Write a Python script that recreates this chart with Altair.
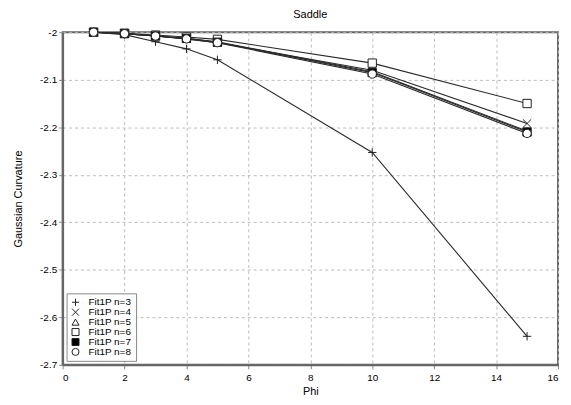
import altair as alt
import pandas as pd

phi = [1, 2, 3, 4, 5, 10, 15]
series_names = ["Fit1P n=3", "Fit1P n=4", "Fit1P n=5", "Fit1P n=6", "Fit1P n=7", "Fit1P n=8"]
n3 = [-2.000, -2.005, -2.020, -2.035, -2.058, -2.253, -2.640]
n4 = [-2.000, -2.003, -2.008, -2.014, -2.022, -2.080, -2.192]
n5 = [-2.000, -2.003, -2.008, -2.013, -2.020, -2.083, -2.208]
n6 = [-2.000, -2.002, -2.006, -2.010, -2.015, -2.065, -2.150]
n7 = [-2.000, -2.003, -2.008, -2.013, -2.021, -2.085, -2.210]
n8 = [-2.000, -2.003, -2.008, -2.014, -2.022, -2.088, -2.213]
x_ticks = [0, 2, 4, 6, 8, 10, 12, 14, 16]
y_ticks = [-2.0, -2.1, -2.2, -2.3, -2.4, -2.5, -2.6, -2.7]

rows = []
for name, vals in zip(series_names, [n3, n4, n5, n6, n7, n8]):
    for p, v in zip(phi, vals):
        rows.append({"series": name, "phi": p, "curv": v})
df = pd.DataFrame(rows)

shapes = [
    "M-1,0L1,0M0,-1L0,1",
    "M-1,-1L1,1M-1,1L1,-1",
    "triangle-up",
    "square",
    "square",
    "circle",
]
fills = ["white", "white", "white", "white", "black", "white"]
strokes = ["#222222"] * 6

font = "Liberation Sans"
lbl = "replace(format(datum.value, '~g'), '\u2212', '-')"

x_enc = alt.X("phi:Q", title="Phi",
              scale=alt.Scale(domain=[0, 16], nice=False),
              axis=alt.Axis(values=x_ticks, labelExpr=lbl, grid=True))
y_enc = alt.Y("curv:Q", title="Gaussian Curvature",
              scale=alt.Scale(domain=[-2.7, -2.0], nice=False, zero=False),
              axis=alt.Axis(values=y_ticks, labelExpr=lbl, grid=True))

leg = alt.Legend(orient="bottom-left", title=None, symbolStrokeWidth=1)

lines = alt.Chart(df).mark_line(color="#2a2a2a", strokeWidth=1.1).encode(
    x=x_enc, y=y_enc, detail="series:N"
)
points = alt.Chart(df).mark_point(size=70, opacity=1, strokeWidth=1).encode(
    x=x_enc, y=y_enc,
    shape=alt.Shape("series:N", title=None,
                    scale=alt.Scale(domain=series_names, range=shapes),
                    legend=leg),
    fill=alt.Fill("series:N", title=None,
                  scale=alt.Scale(domain=series_names, range=fills),
                  legend=leg),
    stroke=alt.Stroke("series:N", title=None,
                      scale=alt.Scale(domain=series_names, range=strokes),
                      legend=leg),
)

chart = (lines + points).properties(
    width=499, height=335,
    title=alt.Title("Saddle", font=font, fontSize=11, fontWeight="normal", offset=6),
    autosize=alt.AutoSizeParams(type="none"),
    padding={"left": 55, "top": 23, "right": 5, "bottom": 31},
).configure_view(
    stroke="#666666", strokeWidth=2
).configure_axis(
    labelFont=font, titleFont=font, labelFontSize=10, titleFontSize=11,
    titleFontWeight="normal", labelColor="#000000", titleColor="#000000",
    domainColor="#666666", domainWidth=2, tickColor="#888888", tickSize=4,
    gridColor="#bbbbbb", gridDash=[3, 3], gridWidth=1,
).configure_axisY(
    titlePadding=16
).configure_axisX(
    titlePadding=3, labelPadding=4
).configure_legend(
    labelFont=font, labelFontSize=10, labelColor="#000000",
    strokeColor="#888888", fillColor="white", padding=4, rowPadding=0,
    symbolSize=50, offset=4, clipHeight=10, labelOffset=8,
)

chart.save("out.html", embed_options={"renderer": "svg", "actions": False})
